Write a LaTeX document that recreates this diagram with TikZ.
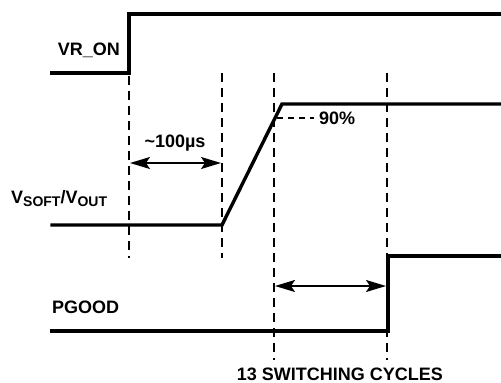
\documentclass[tikz,border=0pt]{standalone}
\usepackage{fontspec}
\setmainfont{Liberation Sans}
\usetikzlibrary{arrows.meta,positioning,calc}

\newcommand{\sigSub}[1]{\raisebox{-3.5pt}{\fontsize{14}{16}\selectfont #1}}

\begin{document}
\begin{tikzpicture}[x=1pt, y=-1pt,
		signal/.style={line width=3.4pt, line join=miter, line cap=rect},
		guideLine/.style={line width=1.8pt, dash pattern=on 9pt off 6pt},
		levelLine/.style={line width=1.6pt, dash pattern=on 6pt off 5pt},
		spanArrow/.style={line width=1.7pt,
				{Stealth[length=20pt,width=12pt,inset=4pt]}-{Stealth[length=20pt,width=12pt,inset=4pt]}},
		sigLabel/.style={font=\fontsize{18}{21}\selectfont\bfseries, inner sep=0pt}
	]
	\useasboundingbox (0,0) rectangle (501,383);

	% VR_ON
	\coordinate (VR0) at (52,73);
	\coordinate (VR1) at (129,73);
	\coordinate (VR2) at (129,14);
	\coordinate (VR3) at (501,14);
	\draw[signal] (VR0) -- (VR1) -- (VR2) -- (VR3);
	\node[sigLabel, anchor=east] (vron) at (120,50) {VR\_ON};

	% V_SOFT / V_OUT
	\coordinate (VS0) at (52,225);
	\coordinate (VS1) at (222,225);
	\coordinate (VS2) at (282,104);
	\coordinate (VS3) at (501,104);
	\draw[signal] (VS0) -- (VS1) -- (VS2) -- (VS3);
	\node[sigLabel, anchor=base west] (vsoft) at (11,203)
		{V\sigSub{SOFT}/V\sigSub{OUT}};

	% PGOOD
	\coordinate (PG0) at (52,331);
	\coordinate (PG1) at (388,331);
	\coordinate (PG2) at (388,256);
	\coordinate (PG3) at (501,256);
	\draw[signal] (PG0) -- (PG1) -- (PG2) -- (PG3);
	\node[sigLabel, anchor=base west] (pgood) at (52,313) {PGOOD};

	% timing marks
	\coordinate (T1a) at (129,76);  \coordinate (T1b) at (129,258);
	\coordinate (T2a) at (222,73);  \coordinate (T2b) at (222,258);
	\coordinate (T3a) at (274,73);  \coordinate (T3b) at (274,360);
	\coordinate (T4a) at (387,73);  \coordinate (T4b) at (387,360);
	\draw[guideLine] (T1a) -- (T1b);
	\draw[guideLine] (T2a) -- (T2b);
	\draw[guideLine] (T3a) -- (T3b);
	\draw[guideLine] (T4a) -- (T4b);

	% 90% level
	\coordinate (L0) at (277,118);
	\coordinate (L1) at (314,118);
	\draw[levelLine] (L0) -- (L1);
	\node[sigLabel, anchor=west] (lvl) at (319,118) {90\%};

	% delays
	\coordinate (D1a) at (130,163);  \coordinate (D1b) at (221,163);
	\draw[spanArrow] (D1a) -- (D1b);
	\node[sigLabel] (dly) at (175,143) {\textasciitilde100µs};

	\coordinate (D2a) at (275,286);  \coordinate (D2b) at (386,286);
	\draw[spanArrow] (D2a) -- (D2b);
	\node[sigLabel] (cyc) at (340,374) {13 SWITCHING CYCLES};
\end{tikzpicture}
\end{document}
